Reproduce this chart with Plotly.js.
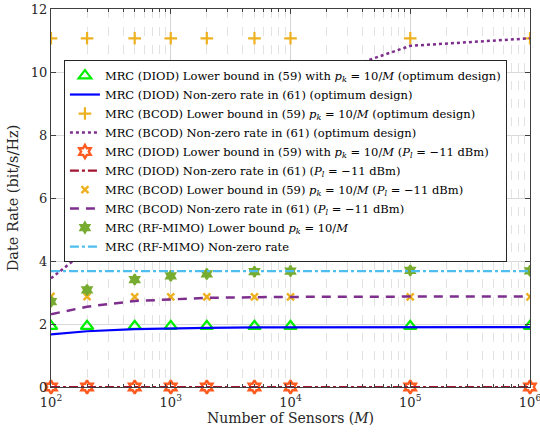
<!DOCTYPE html>
<html>
<head>
<meta charset="utf-8">
<script src="https://cdn.plot.ly/plotly-3.0.1.min.js"></script>
<style>
  html, body { margin: 0; padding: 0; background: #fff; }
  #chart { width: 540px; height: 437px; }
</style>
</head>
<body>
<div id="chart"></div>
<script>
// Number of sensors M
const sensors = [100, 200, 500, 1000, 2000, 5000, 10000, 100000, 1000000];

// Data rates (bit/s/Hz)
const diodLowerOpt   = [1.93, 1.93, 1.93, 1.93, 1.93, 1.93, 1.93, 1.93, 1.93];
const diodRateOpt    = [1.67, 1.77, 1.84, 1.87, 1.88, 1.89, 1.89, 1.90, 1.90];
const bcodLowerOpt   = [11.07, 11.07, 11.07, 11.07, 11.07, 11.07, 11.07, 11.07, 11.07];
const bcodRateOpt    = [3.45, 4.35, 5.55, 6.45, 7.40, 8.60, 9.53, 10.83, 11.07];
const diodLowerPl    = [0, 0, 0, 0, 0, 0, 0, 0, 0];
const diodRatePl     = [0, 0, 0, 0, 0, 0, 0, 0, 0];
const bcodLowerPl    = [2.88, 2.87, 2.86, 2.86, 2.86, 2.86, 2.86, 2.86, 2.86];
const bcodRatePl     = [2.31, 2.55, 2.73, 2.79, 2.83, 2.85, 2.86, 2.87, 2.87];
const rfLower        = [2.71, 3.08, 3.41, 3.53, 3.59, 3.66, 3.68, 3.70, 3.69];
const rfRate         = [3.68, 3.68, 3.68, 3.68, 3.68, 3.68, 3.68, 3.68, 3.68];

const xTickVals = [100, 1000, 10000, 100000, 1000000];
const xTickText = ['10<sup>2</sup>', '10<sup>3</sup>', '10<sup>4</sup>', '10<sup>5</sup>', '10<sup>6</sup>'];
const yTickVals = [0, 2, 4, 6, 8, 10, 12];

// minor grid positions: 2..9 times each decade
const xMinorVals = [];
for (let d = 100; d < 1000000; d *= 10) {
  for (let k = 2; k <= 9; k++) xMinorVals.push(k * d);
}

const names = [
  'MRC (DIOD) Lower bound in (59) with <i>p<sub>k</sub></i> = 10/<i>M</i> (optimum design)',
  'MRC (DIOD) Non-zero rate in (61) (optimum design)',
  'MRC (BCOD) Lower bound in (59) <i>p<sub>k</sub></i> = 10/<i>M</i> (optimum design)',
  'MRC (BCOD) Non-zero rate in (61) (optimum design)',
  'MRC (DIOD) Lower bound in (59) with <i>p<sub>k</sub></i> = 10/<i>M</i> (<i>P<sub>l</sub></i> = −11 dBm)',
  'MRC (DIOD) Non-zero rate in (61) (<i>P<sub>l</sub></i> = −11 dBm)',
  'MRC (BCOD) Lower bound in (59) <i>p<sub>k</sub></i> = 10/<i>M</i> (<i>P<sub>l</sub></i> = −11 dBm)',
  'MRC (BCOD) Non-zero rate in (61) (<i>P<sub>l</sub></i> = −11 dBm)',
  'MRC (RF-MIMO) Lower bound <i>p<sub>k</sub></i> = 10/<i>M</i>',
  'MRC (RF-MIMO) Non-zero rate'
];

const traces = [
  // carrier for the minor-grid overlay axis (no data)
  { x: [], y: [], xaxis: 'x2', yaxis: 'y', mode: 'lines', showlegend: false, hoverinfo: 'skip' },
  { x: sensors, y: diodLowerOpt, name: names[0], mode: 'markers',
    marker: { symbol: 'triangle-up-open', size: 11, color: '#00EE00', line: { width: 2.2, color: '#00EE00' } } },
  { x: sensors, y: diodRateOpt, name: names[1], mode: 'lines',
    line: { color: '#0000FF', width: 2.2 } },
  { x: sensors, y: bcodLowerOpt, name: names[2], mode: 'markers',
    marker: { symbol: 'cross-thin-open', size: 9, color: '#EDB120', line: { width: 2.2, color: '#EDB120' } } },
  { x: sensors, y: bcodRateOpt, name: names[3], mode: 'lines',
    line: { color: '#7E2F8E', width: 2.5, dash: 'dot' } },
  { x: sensors, y: diodLowerPl, name: names[4], mode: 'markers', cliponaxis: false,
    marker: { symbol: 'hexagram-open', size: 10, color: '#FF5A1F', line: { width: 2.4, color: '#FF5A1F' } } },
  { x: sensors, y: diodRatePl, name: names[5], mode: 'lines',
    line: { color: '#A2142F', width: 2.2, dash: 'dashdot' } },
  { x: sensors, y: bcodLowerPl, name: names[6], mode: 'markers',
    marker: { symbol: 'x-thin-open', size: 7, color: '#EDB120', line: { width: 2.4, color: '#EDB120' } } },
  { x: sensors, y: bcodRatePl, name: names[7], mode: 'lines',
    line: { color: '#7E2F8E', width: 2.5, dash: '9px,7px' } },
  { x: sensors, y: rfLower, name: names[8], mode: 'markers',
    marker: { symbol: 'hexagram', size: 8, color: '#77AC30', line: { width: 2, color: '#77AC30' } } },
  { x: sensors, y: rfRate, name: names[9], mode: 'lines',
    line: { color: '#4DBEEE', width: 2.2, dash: 'dashdot' } }
];

const fontFamily = 'DejaVu Serif';

const layout = {
  width: 540,
  height: 437,
  margin: { l: 51, r: 10, t: 9, b: 50 },
  paper_bgcolor: '#ffffff',
  plot_bgcolor: '#ffffff',
  font: { family: fontFamily, size: 13, color: '#262626' },
  showlegend: true,
  legend: {
    x: 0.027, y: 0.865, xanchor: 'left', yanchor: 'top',
    bgcolor: '#ffffff', bordercolor: '#262626', borderwidth: 1,
    font: { family: fontFamily, size: 11.5, color: '#000000' },
    tracegroupgap: 0
  },
  xaxis: {
    type: 'log',
    range: [2, 6],
    tickvals: xTickVals,
    ticktext: xTickText,
    ticks: 'inside', ticklen: 5, tickcolor: '#404040',
    ticklabelstandoff: 3,
    ticklabeloverflow: 'allow',
    showline: true, linecolor: '#404040', linewidth: 1, mirror: 'ticks',
    showgrid: true, gridcolor: '#d4d4d4', gridwidth: 1,
    zeroline: false,
    tickfont: { family: fontFamily, size: 13, color: '#262626' },
    title: { text: 'Number of Sensors (<i>M</i>)', font: { family: fontFamily, size: 14, color: '#262626' }, standoff: 4 }
  },
  // overlay axis carrying the dashed minor grid and short minor ticks
  xaxis2: {
    type: 'log',
    range: [2, 6],
    overlaying: 'x',
    anchor: 'y',
    side: 'bottom',
    tickvals: xMinorVals,
    showticklabels: false,
    ticks: 'inside', ticklen: 3, tickcolor: '#404040',
    showline: false, mirror: 'ticks',
    showgrid: true, gridcolor: '#e2e2e2', griddash: 'dash', gridwidth: 1,
    zeroline: false
  },
  yaxis: {
    range: [0, 12],
    tickvals: yTickVals,
    ticks: 'inside', ticklen: 5, tickcolor: '#404040',
    showline: true, linecolor: '#404040', linewidth: 1, mirror: 'ticks',
    showgrid: true, gridcolor: '#d9d9d9', gridwidth: 1,
    zeroline: false,
    tickfont: { family: fontFamily, size: 13, color: '#262626' },
    title: { text: 'Date Rate (bit/s/Hz)', font: { family: fontFamily, size: 14.5, color: '#262626' }, standoff: 8 }
  }
};

Plotly.newPlot('chart', traces, layout, { staticPlot: true, displayModeBar: false });
</script>
</body>
</html>
